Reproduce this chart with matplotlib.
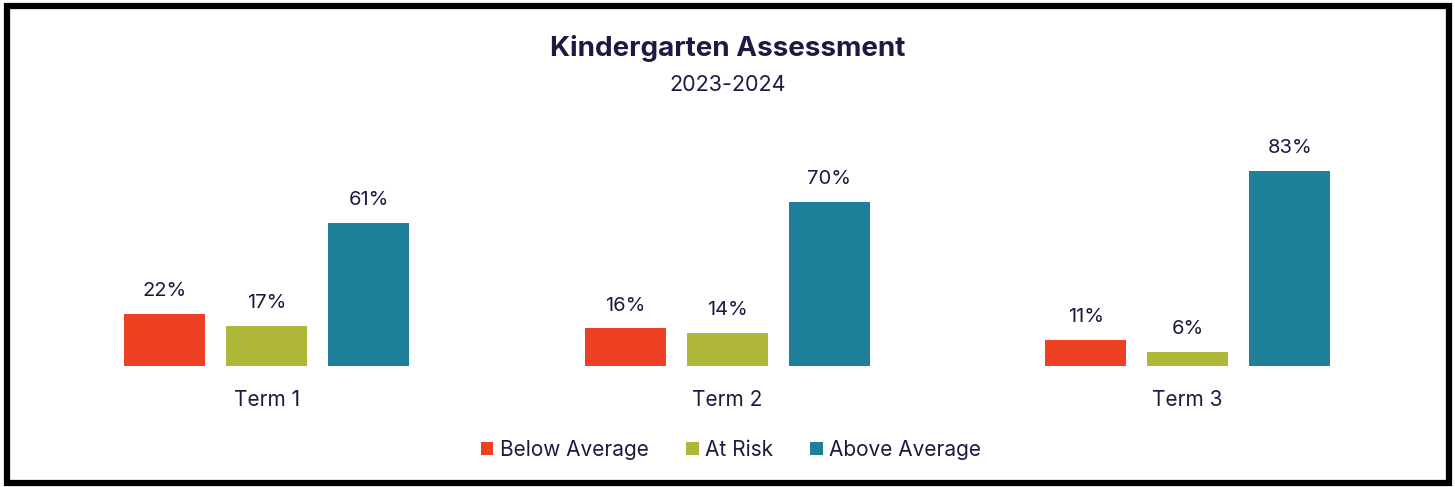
import numpy as np
import matplotlib
matplotlib.use('Agg')
import matplotlib.pyplot as plt
from matplotlib.patches import Rectangle

# data
terms = ['Term 1', 'Term 2', 'Term 3']
below_avg = [22, 16, 11]
at_risk = [17, 14, 6]
above_avg = [61, 70, 83]
series_names = ['Below Average', 'At Risk', 'Above Average']
colors = ['#EE4023', '#AEB737', '#1F8199']
text_col = '#1C1A40'

plt.rcParams['font.family'] = ['Inter', 'DejaVu Sans']

fig = plt.figure(figsize=(14.55, 4.87), dpi=100)
ax = fig.add_axes([36.5 / 1455, 1 - 366 / 487, 1381.5 / 1455, 234.4 / 487])

x = np.arange(len(terms))
w = 0.176
step = 0.2215
for i, (vals, name) in enumerate(zip([below_avg, at_risk, above_avg], series_names)):
    pos = x + (i - 1) * step
    ax.bar(pos, vals, width=w, color=colors[i], label=name)
    for p, v in zip(pos, vals):
        ax.text(p, v + 9.8, f'{v}%', ha='center', va='center', fontsize=14.5, color=text_col)

ax.set_xlim(-0.5, 2.5)
ax.set_ylim(0, 100)
ax.set_xticks(x)
ax.set_xticklabels(terms, fontsize=15, color=text_col)
ax.tick_params(axis='x', length=0, pad=17)
ax.set_yticks([])
for s in ax.spines.values():
    s.set_visible(False)

fig.text(0.5, 1 - 48 / 487, 'Kindergarten Assessment', ha='center', va='center',
         fontsize=20, fontweight='bold', color=text_col)
fig.text(0.5, 1 - 85 / 487, '2023-2024', ha='center', va='center',
         fontsize=15.5, color=text_col)

fig.legend(loc='center', bbox_to_anchor=(731 / 1455, 1 - 450 / 487), ncol=3, frameon=False,
           fontsize=15, handlelength=0.6, handleheight=0.6, handletextpad=0.3,
           columnspacing=1.8, labelcolor=text_col)

# thick black frame around the chart
fig.patches.append(Rectangle((7 / 1455, 4 / 487), 1442 / 1455, 477 / 487,
                             transform=fig.transFigure, fill=False,
                             edgecolor='black', linewidth=4.5))

fig.savefig('out.png', dpi=100)
